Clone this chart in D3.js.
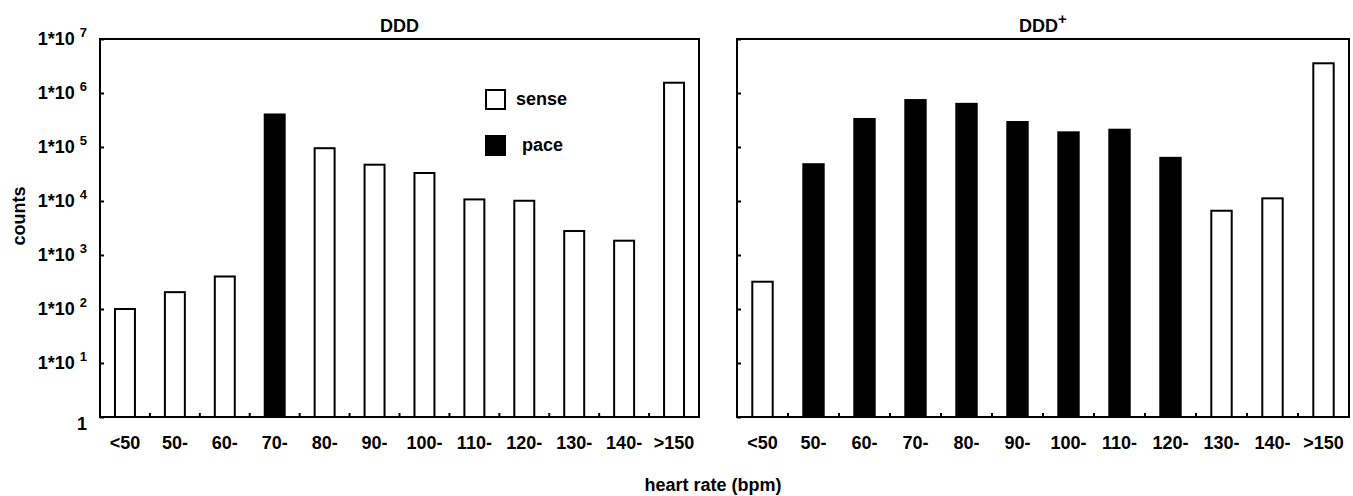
<!DOCTYPE html>
<html>
<head>
<meta charset="utf-8">
<script src="https://cdn.jsdelivr.net/npm/d3@7"></script>
<style>
  body { margin: 0; background: #fff; }
  svg text { font-family: "Liberation Sans", Arial, sans-serif; font-weight: bold; fill: #000; }
</style>
</head>
<body>
<div id="chart"></div>
<script>
// heart rate bins
const categories = ["<50", "50-", "60-", "70-", "80-", "90-", "100-", "110-", "120-", "130-", "140-", ">150"];

// DDD mode counts and bar type
const dddCounts = [100, 205, 400, 400000, 95000, 47000, 33000, 10700, 10100, 2780, 1840, 1550000];
const dddTypes = ["sense", "sense", "sense", "pace", "sense", "sense", "sense", "sense", "sense", "sense", "sense", "sense"];

// DDD+ mode counts and bar type
const dddPlusCounts = [320, 48000, 330000, 740000, 630000, 290000, 187000, 209000, 63000, 6600, 11200, 3550000];
const dddPlusTypes = ["sense", "pace", "pace", "pace", "pace", "pace", "pace", "pace", "pace", "sense", "sense", "sense"];

const yTicks = [1, 10, 100, 1000, 10000, 100000, 1000000, 10000000];
const legendItems = ["sense", "pace"];

const width = 1353, height = 496;
const plotTop = 39, plotBottom = 417;

const svg = d3.select("#chart").append("svg")
    .attr("width", width)
    .attr("height", height);

const y = d3.scaleLog().domain([1, 1e7]).range([plotBottom, plotTop]);

function drawPanel(left, right, counts, types, showLabels, pad) {
    const x = d3.scaleBand()
        .domain(categories)
        .range([left, right])
        .paddingInner(pad)
        .paddingOuter(pad / 2);

    const g = svg.append("g");

    // bars
    g.selectAll("rect.bar")
        .data(categories)
        .join("rect")
          .attr("class", "bar")
          .attr("x", d => x(d))
          .attr("y", (d, i) => y(counts[i]))
          .attr("width", x.bandwidth())
          .attr("height", (d, i) => y(1) - y(counts[i]))
          .attr("fill", (d, i) => types[i] === "pace" ? "#000" : "#fff")
          .attr("stroke", "#000")
          .attr("stroke-width", 2);

    // y axis, ticks pointing inward
    const yAxis = g.append("g")
        .attr("transform", `translate(${left},0)`)
        .call(d3.axisLeft(y).tickValues(yTicks).tickSizeInner(-4).tickSizeOuter(0).tickPadding(13));
    yAxis.select(".domain").remove();
    yAxis.selectAll(".tick line").attr("stroke-width", 2);
    yAxis.selectAll(".tick text").each(function(d) {
        const t = d3.select(this).text(null).style("font-size", "18px");
        if (!showLabels) { t.remove(); return; }
        if (d === 1) {
            t.attr("dy", "0.7em").text("1");
        } else {
            t.append("tspan").text("1*10");
            t.append("tspan").attr("dx", 5).attr("dy", -8)
                .style("font-size", "13px")
                .text(Math.round(Math.log10(d)));
        }
    });

    // x axis labels
    const xAxis = g.append("g")
        .attr("transform", `translate(0,${plotBottom})`)
        .call(d3.axisBottom(x).tickSize(0).tickPadding(19));
    xAxis.select(".domain").remove();
    xAxis.selectAll("text").style("font-size", "18px");

    // small inward ticks between the bins
    g.selectAll("line.minor")
        .data(categories.slice(1))
        .join("line")
          .attr("class", "minor")
          .attr("x1", d => x(d) - x.step() * pad / 2)
          .attr("x2", d => x(d) - x.step() * pad / 2)
          .attr("y1", plotBottom)
          .attr("y2", plotBottom - 4)
          .attr("stroke", "#000")
          .attr("stroke-width", 2);

    // frame
    g.append("rect")
        .attr("x", left)
        .attr("y", plotTop)
        .attr("width", right - left)
        .attr("height", plotBottom - plotTop)
        .attr("fill", "none")
        .attr("stroke", "#000")
        .attr("stroke-width", 2);

    return g;
}

const leftPanel = drawPanel(100, 699, dddCounts, dddTypes, true, 0.6);
const rightPanel = drawPanel(737, 1349, dddPlusCounts, dddPlusTypes, false, 0.6);

// titles
svg.append("text")
    .attr("x", 399.5)
    .attr("y", 32)
    .attr("text-anchor", "middle")
    .style("font-size", "18px")
    .text("DDD");

const t2 = svg.append("text")
    .attr("x", 1043)
    .attr("y", 32)
    .attr("text-anchor", "middle")
    .style("font-size", "18px");
t2.append("tspan").text("DDD");
t2.append("tspan").attr("dy", -8).style("font-size", "15px").text("+");

// axis titles
svg.append("text")
    .attr("transform", "translate(25,216) rotate(-90)")
    .attr("text-anchor", "middle")
    .style("font-size", "18px")
    .text("counts");

svg.append("text")
    .attr("x", 713)
    .attr("y", 491)
    .attr("text-anchor", "middle")
    .style("font-size", "18px")
    .text("heart rate (bpm)");

// legend
const legend = leftPanel.selectAll("g.legend")
    .data(legendItems)
    .join("g")
      .attr("class", "legend")
      .attr("transform", (d, i) => `translate(486,${90 + i * 46})`);
legend.append("rect")
    .attr("width", 19)
    .attr("height", 19)
    .attr("fill", d => d === "pace" ? "#000" : "#fff")
    .attr("stroke", "#000")
    .attr("stroke-width", 2);
legend.append("text")
    .attr("x", (d, i) => i === 0 ? 30 : 36)
    .attr("y", 15)
    .style("font-size", "18px")
    .text(d => d);
</script>
</body>
</html>
